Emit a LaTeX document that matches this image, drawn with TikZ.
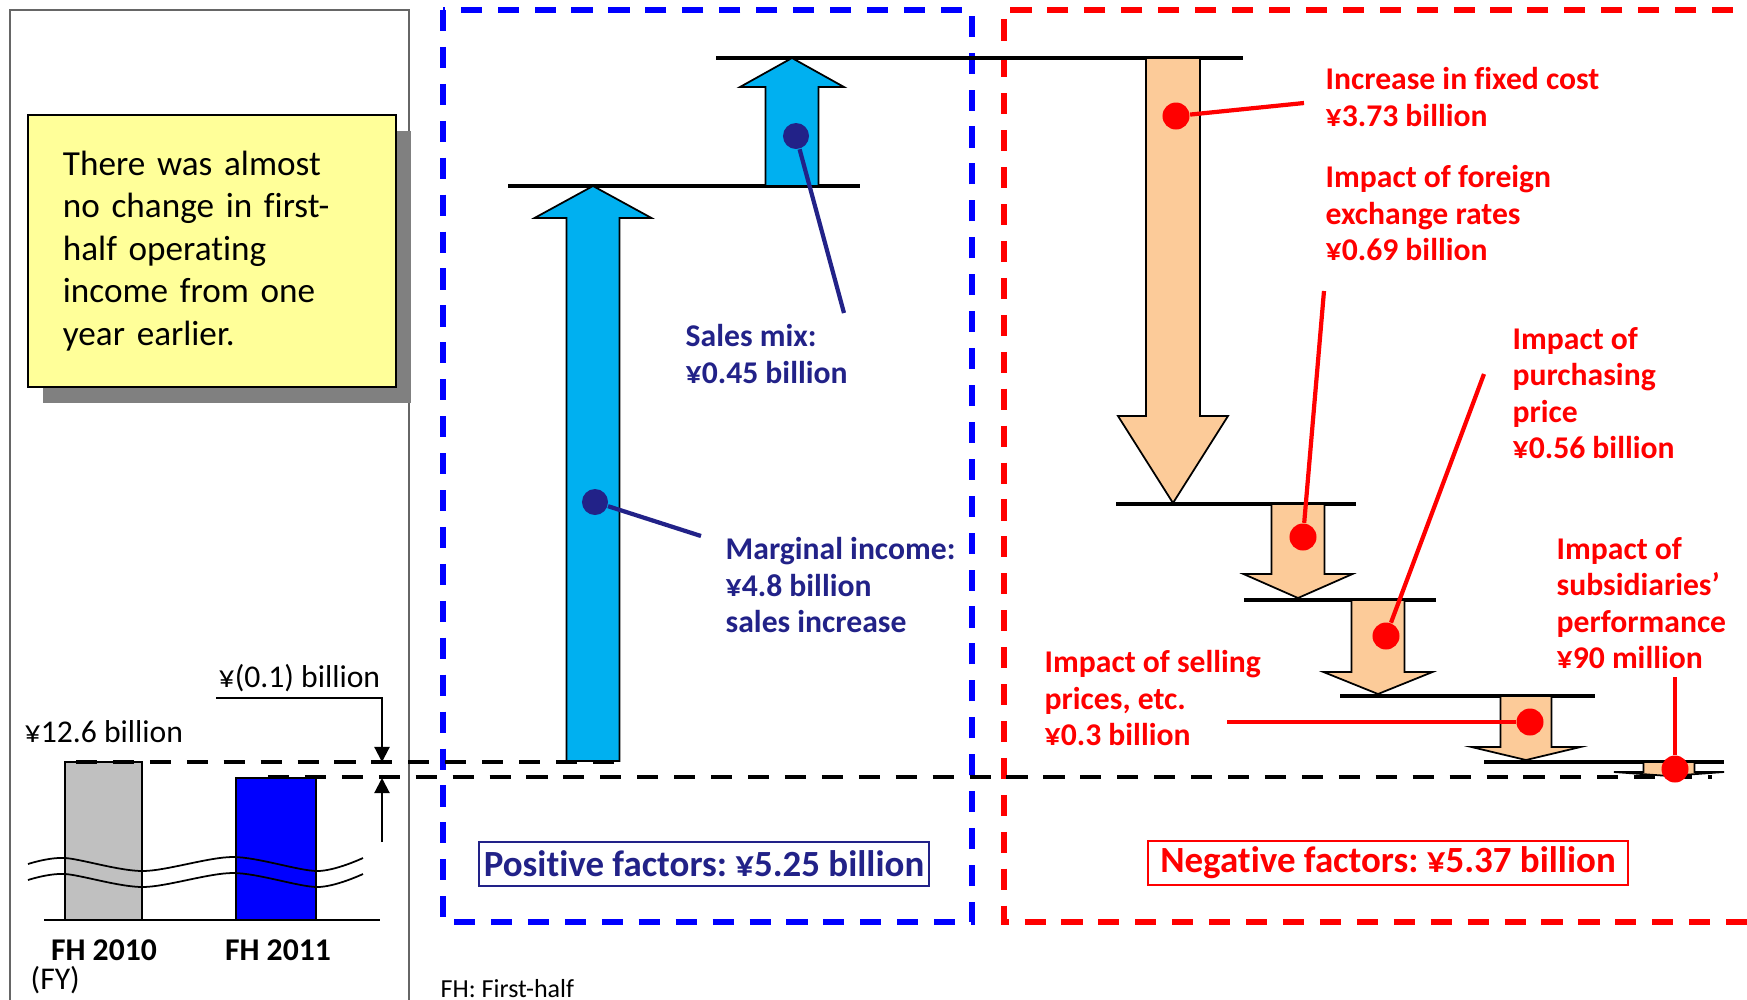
\documentclass[tikz,border=0pt]{standalone}
\usepackage{fontspec}
\setmainfont[Ligatures=NoCommon]{Carlito}
\usepackage{xcolor}
\usepackage{tikz}
\usetikzlibrary{shapes,arrows.meta}
\usetikzlibrary{positioning}
\usetikzlibrary{shadows}
\frenchspacing

\definecolor{arrowblue}{RGB}{0,176,240}
\definecolor{peach}{RGB}{252,203,153}
\definecolor{navytext}{RGB}{34,34,136}
\definecolor{notepaper}{RGB}{255,255,153}
\definecolor{shadowgray}{RGB}{128,128,128}
\definecolor{bargray}{RGB}{192,192,192}

\newcommand{\factorfont}{\fontsize{9}{10.4}\selectfont\bfseries}
\newcommand{\totalfont}{\fontsize{10.5}{12}\selectfont\bfseries}
\newcommand{\chartfont}{\fontsize{9}{10.4}\selectfont}

% block arrow: style, centre x, tail y, head base y, tip y, half shaft, half head
\newcommand{\factorarrow}[7]{%
  \draw[#1] ({#2-#6},#3) -- ({#2-#6},#4) -- ({#2-#7},#4) -- (#2,#5)
    -- ({#2+#7},#4) -- ({#2+#6},#4) -- ({#2+#6},#3) -- cycle;}

\tikzstyle{notebox} = [rectangle, draw=black, line width=0.6pt, fill=notepaper,
    drop shadow={shadow xshift=0.15cm, shadow yshift=-0.16cm, fill=shadowgray, opacity=1},
    minimum width=3.68cm, minimum height=2.71cm, text width=2.98cm,
    inner xsep=0.35cm, align=left, font=\fontsize{10}{12.1}\selectfont]
\tikzstyle{panelframe} = [draw=black!60, line width=0.4pt]
\tikzstyle{bluefence} = [draw=blue, line width=1.6pt, dash pattern=on 6pt off 4.5pt]
\tikzstyle{redfence} = [draw=red, line width=1.6pt, dash pattern=on 6pt off 4.5pt]
\tikzstyle{blackdash} = [draw, line width=1.3pt, dash pattern=on 6pt off 4.5pt]
\tikzstyle{bar} = [draw, line width=0.6pt]
\tikzstyle{waveline} = [draw, line width=0.5pt]
\tikzstyle{levelline} = [draw, line width=1.3pt]
\tikzstyle{gainarrow} = [draw, line width=0.5pt, fill=arrowblue]
\tikzstyle{lossarrow} = [draw, line width=0.5pt, fill=peach]
\tikzstyle{dimline} = [draw, line width=0.6pt, -{Triangle[length=4.3pt, width=4.3pt]}]
\tikzstyle{bluedot} = [circle, fill=navytext, minimum size=0.26cm, inner sep=0pt]
\tikzstyle{reddot} = [circle, fill=red, minimum size=0.27cm, inner sep=0pt]
\tikzstyle{blueline} = [draw=navytext, line width=1.2pt]
\tikzstyle{redline} = [draw=red, line width=1.2pt]
\tikzstyle{bluelabel} = [text=navytext, font=\factorfont, align=left, inner sep=0pt, anchor=west]
\tikzstyle{redlabel} = [text=red, font=\factorfont, align=left, inner sep=0pt, anchor=west]
\tikzstyle{chartlabel} = [font=\chartfont, inner sep=0pt, anchor=west]
\tikzstyle{totalbox} = [rectangle, font=\totalfont, line width=0.6pt,
    inner sep=0pt, minimum height=0.44cm]

\begin{document}
\begin{tikzpicture}[x=0.01cm, y=-0.01cm]
  \useasboundingbox (0,0) rectangle (1747,999);

  % Frames
  \draw[panelframe] (10,1010) -- (10,10) -- (409,10) -- (409,1010);
  \draw[bluefence] (443,10) rectangle (972,922);
  \draw[redfence] (1770,10) -- (1004,10) -- (1004,922) -- (1770,922);

  % Note
  \node[notebox] (note) at (212,251) {There was almost\\no change in first-\\half operating\\income from one\\year earlier.};

  % Bars of the two half years
  \draw[bar, fill=bargray] (65,762) rectangle (142,920);
  \draw[bar, fill=blue] (236,778) rectangle (316,920);
  \draw[waveline] plot[smooth] coordinates {(28,864) (65,858) (143,871) (233,857) (317,871) (363,858)};
  \draw[waveline] plot[smooth] coordinates {(28,880) (65,874) (143,887) (233,873) (317,887) (363,874)};
  \draw[bar] (44,920) -- (380,920);

  \node[chartlabel] (prevvalue) at (24,732) {¥12.6 billion};
  \node[chartlabel] (diffvalue) at (218,678) {¥(0.1) billion};
  \node[font=\chartfont\bfseries, inner sep=0pt] (prevyear) at (104,950) {FH 2010};
  \node[font=\chartfont\bfseries, inner sep=0pt] (curyear) at (278,950) {FH 2011};
  \node[chartlabel] (fy) at (30,980) {(FY)};
  \node[font=\fontsize{7.4}{9}\selectfont, inner sep=0pt, anchor=north west] (fhnote) at (440,979) {FH: First-half};

  % Difference marker
  \coordinate (diffstart) at (216,698);
  \coordinate (difftop) at (382,762);
  \coordinate (diffbot) at (382,778);
  \coordinate (difftail) at (382,842);
  \path[dimline] (diffstart) -| (difftop);
  \path[dimline] (difftail) -- (diffbot);

  % Levels
  \path[levelline] (508,186) -- (860,186);
  \path[levelline] (716,58) -- (1243,58);
  \path[levelline] (1116,504) -- (1356,504);
  \path[levelline] (1244,600) -- (1436,600);
  \path[levelline] (1340,696) -- (1595,696);
  \path[levelline] (1484,762) -- (1724,762);

  % Positive factors
  \factorarrow{gainarrow}{593}{761}{218}{186}{26.5}{58.5}
  \factorarrow{gainarrow}{792}{186}{87}{58}{26.5}{52}

  % Negative factors
  \factorarrow{lossarrow}{1173}{58}{416}{503}{27}{55}
  \factorarrow{lossarrow}{1298}{504}{574}{598}{26.5}{54.5}
  \factorarrow{lossarrow}{1378}{600}{672}{694}{26.5}{54.5}
  \factorarrow{lossarrow}{1526}{696}{747}{760}{25.5}{54.5}
  \factorarrow{lossarrow}{1669}{762}{772}{776}{25.5}{55}

  % Reference levels
  \path[blackdash] (76,762) -- (619,762);
  \path[blackdash] (268,777) -- (1712,777);

  % Totals
  \node[totalbox, draw=navytext, text=navytext, minimum width=4.5cm] (positive) at (704,864) {Positive factors: ¥5.25 billion};
  \node[totalbox, draw=red, text=red, minimum width=4.8cm] (negative) at (1388,863) {Negative factors: ¥5.37 billion};

  % Place labels
  \node[bluelabel] (mixlabel) at (685,354) {Sales mix:\\¥0.45 billion};
  \node[bluelabel] (marginlabel) at (725,585) {Marginal income:\\¥4.8 billion\\sales increase};
  \node[redlabel] (fixedlabel) at (1325,97) {Increase in fixed cost\\¥3.73 billion};
  \node[redlabel] (forexlabel) at (1325,213) {Impact of foreign\\exchange rates\\¥0.69 billion};
  \node[redlabel] (purchlabel) at (1512,393) {Impact of\\purchasing\\price\\¥0.56 billion};
  \node[redlabel] (selllabel) at (1044,698) {Impact of selling\\prices, etc.\\¥0.3 billion};
  \node[redlabel] (sublabel) at (1556,603) {Impact of\\subsidiaries’\\performance\\¥90 million};

  % Place dots
  \node[bluedot] (margindot) at (595,502) {};
  \node[bluedot] (mixdot) at (796,136) {};
  \node[reddot] (fixeddot) at (1176,116) {};
  \node[reddot] (forexdot) at (1303,537) {};
  \node[reddot] (purchdot) at (1386,636) {};
  \node[reddot] (selldot) at (1530,722) {};
  \node[reddot] (subdot) at (1675,769) {};

  % Draw leaders
  \coordinate (marginend) at (701,536);
  \coordinate (mixend) at (844,313);
  \coordinate (fixedend) at (1304,103);
  \coordinate (forexend) at (1324,291);
  \coordinate (purchend) at (1484,374);
  \coordinate (sellend) at (1227,722);
  \coordinate (subend) at (1675,677);
  \path[blueline] (margindot) -- (marginend);
  \path[blueline] (mixdot) -- (mixend);
  \path[redline] (fixeddot) -- (fixedend);
  \path[redline] (forexdot) -- (forexend);
  \path[redline] (purchdot) -- (purchend);
  \path[redline] (selldot) -- (sellend);
  \path[redline] (subdot) -- (subend);
\end{tikzpicture}
\end{document}
